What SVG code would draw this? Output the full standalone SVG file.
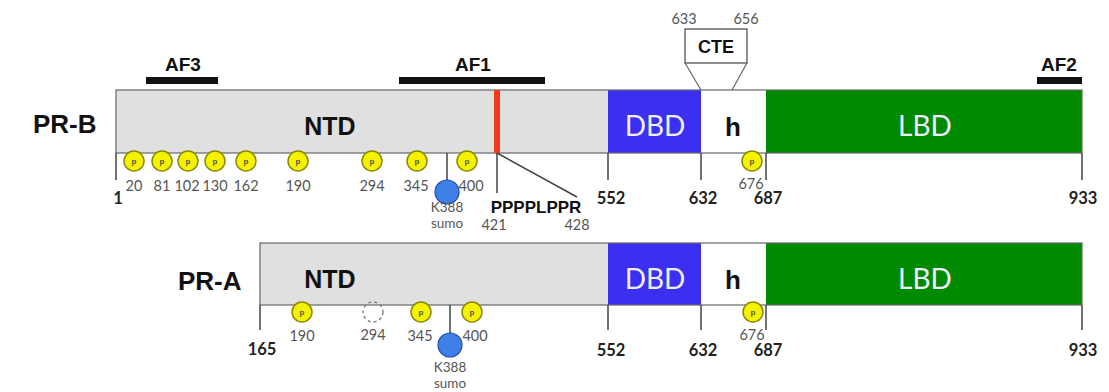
<svg xmlns="http://www.w3.org/2000/svg" width="1109" height="392" viewBox="0 0 1109 392">
<style>
.lbl{font-family:"Liberation Sans",Arial,sans-serif;font-weight:bold;fill:#111}
.big{font-size:26px}
.ntd{font-size:25px}
.af{font-size:19px}
.dom{font-family:Lato,"Open Sans",sans-serif;font-size:28px;fill:#eef}
.num{font-family:Lato,"Open Sans",sans-serif;font-size:14.5px;fill:#555;text-anchor:middle}
.sm{font-size:13.5px}
.pos{font-family:Lato,"Open Sans",sans-serif;font-weight:bold;font-size:16.5px;fill:#222;text-anchor:middle}
.edge{stroke:#666;stroke-width:1.2;fill:none}
.tick{stroke:#444;stroke-width:1.5;fill:none}
.afbar{fill:#111}
.p{fill:#f5f200;stroke:#8a8a00;stroke-width:1.5}
.pt{font-family:"Liberation Sans",Arial,sans-serif;font-size:8px;font-weight:bold;fill:#555;text-anchor:middle}
.sumo{fill:#3f7fe8;stroke:#2050b0;stroke-width:1.2}
</style>
<defs>
<g id="pp"><circle r="10" class="p"/><text y="3" class="pt">p</text></g>
</defs>

<g id="PR-B">
<text x="33" y="133" class="lbl big">PR-B</text>
<rect x="116" y="90" width="492" height="63" fill="#e0e0e0"/>
<rect x="608" y="90" width="93" height="63" fill="#3b2ff2"/>
<rect x="701" y="90" width="65" height="63" fill="#ffffff"/>
<rect x="766" y="90" width="316" height="63" fill="#008a00"/>
<rect x="116" y="90" width="966" height="63" class="edge"/>
<rect x="494" y="90" width="6" height="63" fill="#f03a1a"/>
<text x="330" y="135" class="lbl ntd" text-anchor="middle">NTD</text>
<text x="655" y="136" class="dom" text-anchor="middle">DBD</text>
<text x="733" y="136" class="lbl" font-size="26" text-anchor="middle">h</text>
<text x="925" y="136" class="dom" text-anchor="middle" fill="#e4ffe4">LBD</text>
</g>

<g id="AF-bars">
<rect x="146" y="77" width="72" height="7" class="afbar"/>
<text x="183" y="71" class="lbl af" text-anchor="middle">AF3</text>
<rect x="399" y="77" width="146" height="7" class="afbar"/>
<text x="473" y="71" class="lbl af" text-anchor="middle">AF1</text>
<rect x="1037" y="77" width="45" height="7" class="afbar"/>
<text x="1059" y="71" class="lbl af" text-anchor="middle">AF2</text>
</g>

<g id="CTE">
<rect x="685" y="29" width="62" height="34" fill="#fff" stroke="#444" stroke-width="1.2"/>
<text x="716" y="53" class="lbl" font-size="18" text-anchor="middle">CTE</text>
<text x="684" y="24" class="num">633</text>
<text x="746" y="24" class="num">656</text>
</g>

<g id="PR-A">
<text x="178" y="290" class="lbl big">PR-A</text>
<rect x="260" y="243" width="348" height="62" fill="#e0e0e0"/>
<rect x="608" y="243" width="93" height="62" fill="#3b2ff2"/>
<rect x="701" y="243" width="65" height="62" fill="#ffffff"/>
<rect x="766" y="243" width="316" height="62" fill="#008a00"/>
<rect x="260" y="243" width="822" height="62" class="edge"/>
<text x="330" y="288" class="lbl ntd" text-anchor="middle">NTD</text>
<text x="655" y="289" class="dom" text-anchor="middle">DBD</text>
<text x="733" y="289" class="lbl" font-size="26" text-anchor="middle">h</text>
<text x="925" y="289" class="dom" text-anchor="middle" fill="#e4ffe4">LBD</text>
</g>

<g id="connectors">
<path class="edge" d="M685 63 L701 90 M747 63 L732 90"/>
<path class="tick" d="M116 153 V180 M608 153 V180 M701 153 V180 M766 153 V180 M1082 153 V180"/>
<path class="tick" d="M260 305 V330 M608 305 V330 M701 305 V330 M766 305 V330 M1082 305 V330"/>
<path class="tick" d="M497 153 V193 M497 153 L577 197"/>
<path class="tick" d="M447 153 V182 M450 305 V334"/>
</g>

<g id="PR-B-sites">
<use href="#pp" x="134" y="161"/>
<use href="#pp" x="162" y="161"/>
<use href="#pp" x="188" y="161"/>
<use href="#pp" x="215" y="161"/>
<use href="#pp" x="246" y="161"/>
<use href="#pp" x="298" y="161"/>
<use href="#pp" x="372" y="161"/>
<use href="#pp" x="417" y="161"/>
<use href="#pp" x="467" y="161"/>
<use href="#pp" x="752" y="161"/>
<circle cx="447" cy="192" r="12" class="sumo"/>
<text x="134" y="191" class="num">20</text>
<text x="162" y="191" class="num">81</text>
<text x="187" y="191" class="num">102</text>
<text x="215" y="191" class="num">130</text>
<text x="246" y="191" class="num">162</text>
<text x="298" y="191" class="num">190</text>
<text x="372" y="191" class="num">294</text>
<text x="416" y="191" class="num">345</text>
<text x="471" y="191" class="num">400</text>
<text x="751" y="189" class="num">676</text>
<text x="447" y="212" class="num sm">K388</text>
<text x="447" y="228" class="num sm">sumo</text>
<text x="536" y="213" class="lbl" font-size="17" text-anchor="middle">PPPPLPPR</text>
<text x="494" y="230" class="num">421</text>
<text x="577" y="230" class="num">428</text>
</g>

<g id="PR-B-positions">
<text x="118" y="204" class="pos">1</text>
<text x="611" y="204" class="pos">552</text>
<text x="703" y="204" class="pos">632</text>
<text x="768" y="204" class="pos">687</text>
<text x="1083" y="204" class="pos">933</text>
</g>

<g id="PR-A-sites">
<use href="#pp" x="302" y="312"/>
<circle cx="373" cy="312" r="10" fill="none" stroke="#777" stroke-width="1.3" stroke-dasharray="3,3"/>
<use href="#pp" x="421" y="312"/>
<use href="#pp" x="472" y="312"/>
<use href="#pp" x="753" y="312"/>
<circle cx="450" cy="345" r="12" class="sumo"/>
<text x="302" y="341" class="num">190</text>
<text x="373" y="340" class="num">294</text>
<text x="420" y="341" class="num">345</text>
<text x="475" y="341" class="num">400</text>
<text x="752" y="340" class="num">676</text>
<text x="450" y="372" class="num sm">K388</text>
<text x="450" y="388" class="num sm">sumo</text>
</g>

<g id="PR-A-positions">
<text x="262" y="355" class="pos">165</text>
<text x="611" y="356" class="pos">552</text>
<text x="703" y="356" class="pos">632</text>
<text x="768" y="356" class="pos">687</text>
<text x="1083" y="356" class="pos">933</text>
</g>
</svg>
